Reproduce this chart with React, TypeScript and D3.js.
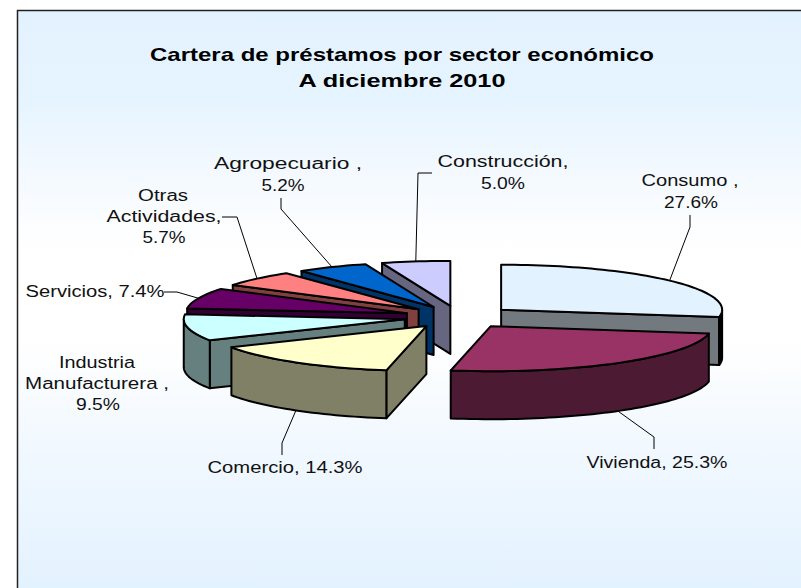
import React from 'react';
import * as d3 from 'd3';

const W = 801;
const H = 588;

// slice order is clockwise from 12 o'clock
const categories = ['Consumo', 'Vivienda', 'Comercio', 'Industria Manufacturera', 'Servicios', 'Otras Actividades', 'Agropecuario', 'Construcción'];
const values = [27.6, 25.3, 14.3, 9.5, 7.4, 5.7, 5.2, 5.0];
const topColors = ['#E3F2FF', '#993366', '#FFFFCC', '#CCFFFF', '#660066', '#FF8080', '#0066CC', '#CCCCFF'];
const wallColors = ['#72797F', '#4D1A33', '#808066', '#668080', '#330033', '#804040', '#003366', '#666680'];
const rimColors = ['#000000', '#4D1A33', '#808066', '#668080', '#330033', '#804040', '#003366', '#666680'];

// back slices first
const drawOrder = [7, 6, 5, 4, 3, 2, 0, 1];

const cx = 459;
const cy = 317;
const rx = 221;
const ry = 45;
const depth = 48;
const explode = 0.25;

const xScale = d3.scaleLinear().domain([-1, 1]).range([cx - rx, cx + rx]);
const yScale = d3.scaleLinear().domain([-1, 1]).range([cy - ry, cy + ry]);

const arcs = d3.pie<number>().sort(null)(values);

const pct = (i: number) => values[i].toFixed(1) + '%';

type Label = { slice: number; elbow: [number, number][]; lines: { t: string; x: number; y: number; w: number }[] };

const labels: Label[] = [
  { slice: 0, elbow: [[690, 227], [690, 215]], lines: [
    { t: 'Consumo ,', x: 690, y: 186, w: 97 },
    { t: pct(0), x: 691, y: 208, w: 54 },
  ] },
  { slice: 1, elbow: [[654, 437], [654, 449]], lines: [
    { t: `Vivienda, ${pct(1)}`, x: 657, y: 468, w: 141 },
  ] },
  { slice: 2, elbow: [[282, 443], [282, 455]], lines: [
    { t: `Comercio, ${pct(2)}`, x: 285, y: 473, w: 155 },
  ] },
  { slice: 3, elbow: [], lines: [
    { t: 'Industria', x: 97, y: 368, w: 76 },
    { t: 'Manufacturera ,', x: 97, y: 389, w: 144 },
    { t: pct(3), x: 98, y: 410, w: 44 },
  ] },
  { slice: 4, elbow: [[177, 292], [164, 292]], lines: [
    { t: `Servicios, ${pct(4)}`, x: 95, y: 297, w: 139 },
  ] },
  { slice: 5, elbow: [[237, 217], [222, 217]], lines: [
    { t: 'Otras', x: 163, y: 201, w: 50 },
    { t: 'Actividades,', x: 164, y: 222, w: 115 },
    { t: pct(5), x: 164, y: 243, w: 43 },
  ] },
  { slice: 6, elbow: [[281, 209], [281, 198]], lines: [
    { t: 'Agropecuario ,', x: 288, y: 169, w: 148 },
    { t: pct(6), x: 283, y: 191, w: 43 },
  ] },
  { slice: 7, elbow: [[418, 173], [432, 173]], lines: [
    { t: 'Construcción,', x: 503, y: 167, w: 131 },
    { t: pct(7), x: 503, y: 189, w: 44 },
  ] },
];

const centerOffset = (i: number): [number, number] => {
  const mid = (arcs[i].startAngle + arcs[i].endAngle) / 2;
  return [explode * Math.sin(mid), -explode * Math.cos(mid)];
};

// project an angle on the rim of slice i to the page
const rim = (i: number, a: number, r = 1): [number, number] => {
  const [ox, oy] = centerOffset(i);
  return [xScale(ox + r * Math.sin(a)), yScale(oy - r * Math.cos(a))];
};

const sampleAngles = (a0: number, a1: number) => {
  const n = Math.max(2, Math.ceil((a1 - a0) / 0.03));
  return d3.range(n + 1).map((k) => a0 + ((a1 - a0) * k) / n);
};

const line = d3.line();
const down = (p: [number, number]): [number, number] => [p[0], p[1] + depth];

const topPath = (i: number) => {
  const { startAngle, endAngle } = arcs[i];
  const pts = [rim(i, 0, 0), ...sampleAngles(startAngle, endAngle).map((a) => rim(i, a))];
  return line(pts) + 'Z';
};

// radial wall seen from the front: only one edge of a slice ever faces us
const radialWall = (i: number) => {
  const { startAngle, endAngle } = arcs[i];
  let edge: number | null = null;
  if (-Math.cos(startAngle - Math.PI / 2) > 0) edge = startAngle;
  else if (-Math.cos(endAngle + Math.PI / 2) > 0) edge = endAngle;
  if (edge === null) return null;
  const a = rim(i, 0, 0);
  const b = rim(i, edge);
  return line([a, b, down(b), down(a)]) + 'Z';
};

const rimWall = (i: number) => {
  const a0 = Math.max(arcs[i].startAngle, Math.PI / 2);
  const a1 = Math.min(arcs[i].endAngle, (3 * Math.PI) / 2);
  if (a1 <= a0) return null;
  const pts = sampleAngles(a0, a1).map((a) => rim(i, a));
  return line([...pts, ...pts.slice().reverse().map(down)]) + 'Z';
};

const leader = (l: Label) => {
  const i = l.slice;
  const mid = (arcs[i].startAngle + arcs[i].endAngle) / 2;
  let start = rim(i, mid);
  if (-Math.cos(mid) > 0) start = down(start);
  return line([start, ...l.elbow]);
};

const sans = "'Liberation Sans', Arial, sans-serif";

export default function App() {
  return (
    <svg width={W} height={H} style={{ position: 'absolute', left: 0, top: 0 }} fontFamily={sans}>
      <defs>
        <linearGradient id="bg" gradientUnits="userSpaceOnUse" x1={0} x2={0} y1={10} y2={H}>
          <stop offset="0" stopColor="#E3F2FF" />
          <stop offset="0.156" stopColor="#E6F4FF" />
          <stop offset="0.277" stopColor="#F3F9FF" />
          <stop offset="0.415" stopColor="#FFFFFF" />
          <stop offset="0.571" stopColor="#FFFFFF" />
          <stop offset="0.727" stopColor="#F3F9FF" />
          <stop offset="0.882" stopColor="#EAF5FF" />
          <stop offset="1" stopColor="#E3F2FF" />
        </linearGradient>
      </defs>
      <rect x={17.5} y={10.5} width={W} height={H} fill="url(#bg)" stroke="#222" strokeWidth={1.5} />

      <g fill="#000" fontWeight="bold" fontSize={19} textAnchor="middle">
        <text x={402} y={61} textLength={504} lengthAdjust="spacingAndGlyphs">Cartera de préstamos por sector económico</text>
        <text x={402} y={87} textLength={207} lengthAdjust="spacingAndGlyphs">A diciembre 2010</text>
      </g>

      {drawOrder.map((i) => (
        <g key={categories[i]} stroke="#000" strokeWidth={2} strokeLinejoin="round">
          {radialWall(i) && <path d={radialWall(i)!} fill={wallColors[i]} />}
          {rimWall(i) && <path d={rimWall(i)!} fill={rimColors[i]} />}
          <path d={topPath(i)} fill={topColors[i]} />
        </g>
      ))}

      {labels.filter((l) => l.elbow.length).map((l) => (
        <path key={l.slice} d={leader(l)!} fill="none" stroke="#000" strokeWidth={1} />
      ))}

      <g fontSize={16} fill="#111" textAnchor="middle">
        {labels.flatMap((l) => l.lines.map((ln) => (
          <text key={ln.t} x={ln.x} y={ln.y} textLength={ln.w} lengthAdjust="spacingAndGlyphs">{ln.t}</text>
        )))}
      </g>
    </svg>
  );
}
